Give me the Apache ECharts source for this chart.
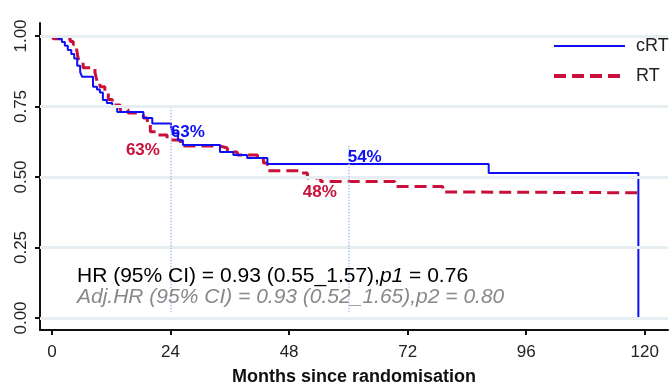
<!DOCTYPE html>
<html>
<head>
<meta charset="utf-8">
<script src="https://cdn.jsdelivr.net/npm/echarts@6/dist/echarts.min.js"></script>
<style>html,body{margin:0;padding:0;background:#fff;}#c{width:672px;height:385px;}</style>
</head>
<body>
<div id="c"></div>
<script>
// Kaplan-Meier steps
const crtTimes = [0, 1.2, 2.0, 2.6, 3.2, 3.9, 4.5, 5.1, 5.7, 6.1, 8.3, 9.1, 9.7, 10.3, 11.1, 12.2, 13.2, 18.5, 20.3, 24.1, 24.6, 25.5, 26.5, 34.0, 36.7, 39.5, 43.6, 88.4, 118.7];
const crtSurv  = [1.0, 0.99, 0.979, 0.965, 0.95, 0.936, 0.92, 0.894, 0.872, 0.855, 0.82, 0.81, 0.80, 0.773, 0.762, 0.748, 0.73, 0.709, 0.69, 0.67, 0.655, 0.63, 0.613, 0.589, 0.578, 0.567, 0.546, 0.514, 0.0];
const rtTimes = [0, 0.3, 3.7, 4.3, 5.0, 5.3, 5.7, 6.3, 8.7, 9.1, 9.7, 10.7, 11.4, 12.2, 13.8, 15.4, 17.2, 18.5, 19.3, 19.9, 21.3, 23.3, 26.0, 34.0, 35.5, 37.5, 41.6, 42.8, 43.6, 50.3, 51.7, 54.4, 69.4, 79.1, 79.6, 118.7];
const rtSurv  = [1.0, 0.99, 0.98, 0.97, 0.95, 0.92, 0.905, 0.887, 0.87, 0.84, 0.82, 0.80, 0.775, 0.755, 0.738, 0.727, 0.72, 0.709, 0.684, 0.66, 0.649, 0.631, 0.61, 0.603, 0.589, 0.578, 0.567, 0.55, 0.522, 0.514, 0.496, 0.484, 0.466, 0.447, 0.444, 0.444];
const xTicks = [0, 24, 48, 72, 96, 120];
const yTicks = [0, 0.25, 0.5, 0.75, 1.0];
const seriesNames = ['cRT', 'RT'];
const refLines = [[24, 0.745], [60, 0.615]];
const crtLabels = [{text: '63%', x: 27.5, y: 0.66}, {text: '54%', x: 63.3, y: 0.571}];
const rtLabels  = [{text: '63%', x: 18.4, y: 0.596}, {text: '48%', x: 54.2, y: 0.447}];
const hrLine1 = 'HR (95% CI) = 0.93 (0.55_1.57),';
const hrLine1b = ' = 0.76';
const hrLine2 = 'Adj.HR (95% CI) = 0.93 (0.52_1.65),p2 = 0.80';

const BLUE = '#0f0ff5', RED = '#c8103a';
const FONT = '"Liberation Sans", Arial, sans-serif';
const zip = (t, s) => t.map((v, i) => [v, s[i]]);
const labelSeries = (arr, color, name) => ({
  type: 'scatter', name: name, silent: true, z: 6,
  symbol: 'rect', symbolSize: 1,
  itemStyle: {color: 'rgba(0,0,0,0)', opacity: 1},
  data: arr.map(p => ({value: [p.x, p.y], name: p.text})),
  label: {show: true, position: 'inside', formatter: p => p.name, color: color, opacity: 1, textBorderWidth: 0, textBorderColor: 'transparent', fontSize: 17, fontWeight: 'bold', fontFamily: FONT}
});

const chart = echarts.init(document.getElementById('c'));
chart.setOption({
  animation: false,
  backgroundColor: '#fff',
  textStyle: {fontFamily: FONT},
  grid: {left: 40, right: 4, top: 23, bottom: 55, containLabel: false, outerBoundsMode: 'none'},
  legend: {
    orient: 'vertical', left: 552, top: 37, padding: 0, itemWidth: 71, itemHeight: 14, itemGap: 12,
    itemStyle: {opacity: 0},
    textStyle: {fontSize: 18, color: '#222', fontFamily: FONT, padding: [0, 0, 0, 6]},
    data: [
      {name: seriesNames[0], lineStyle: {width: 2}},
      {name: seriesNames[1], lineStyle: {width: 4, type: [12, 6]}}
    ]
  },
  xAxis: {
    type: 'value', min: -2.43, max: 124.7,
    name: 'Months since randomisation', nameLocation: 'middle', nameGap: 38,
    nameTextStyle: {fontSize: 18, fontWeight: 'bold', color: '#111', fontFamily: FONT},
    axisLine: {show: true, onZero: false, lineStyle: {color: '#111', width: 2}},
    axisTick: {show: true, length: 5, lineStyle: {color: '#111', width: 2}, customValues: xTicks},
    axisLabel: {fontSize: 17, color: '#222', margin: 14, customValues: xTicks, formatter: v => String(v)},
    splitLine: {show: false}
  },
  yAxis: {
    type: 'value', min: -0.0426, max: 1.046,
    axisLine: {show: true, onZero: false, lineStyle: {color: '#111', width: 2}},
    axisTick: {show: true, length: 5, lineStyle: {color: '#111', width: 2}, customValues: yTicks},
    axisLabel: {fontSize: 17, color: '#222', rotate: 90, margin: 10, customValues: yTicks, formatter: v => v.toFixed(2)},
    splitLine: {show: false}
  },
  series: [
    {
      type: 'line', name: '_grid', data: [], silent: true, z: 1,
      markLine: {
        silent: true, symbol: 'none', animation: false, label: {show: false},
        lineStyle: {color: '#e6eef1', width: 3, type: 'solid'},
        data: yTicks.map(v => ({yAxis: v}))
      }
    },
    {
      type: 'line', name: '_ref', data: [], silent: true, z: 2,
      markLine: {
        silent: true, symbol: 'none', animation: false, label: {show: false},
        lineStyle: {color: '#a9c6ec', width: 1.5, type: 'dotted'},
        data: refLines.map(r => [{coord: [r[0], 0.02]}, {coord: [r[0], r[1]]}])
      }
    },
    {
      type: 'line', name: seriesNames[1], step: 'end', symbol: 'none', z: 3,
      data: zip(rtTimes, rtSurv),
      lineStyle: {color: RED, width: 3, type: [12, 6]},
      itemStyle: {color: RED}
    },
    {
      type: 'line', name: seriesNames[0], step: 'end', symbol: 'none', z: 4,
      data: zip(crtTimes, crtSurv),
      lineStyle: {color: BLUE, width: 2},
      itemStyle: {color: BLUE}
    },
    labelSeries(crtLabels, BLUE, '_lab1'),
    labelSeries(rtLabels, RED, '_lab2')
  ],
  graphic: [
    {
      type: 'text', left: 77, top: 266, z: 10,
      style: {
        text: '{n|' + hrLine1 + '}{i|p1}{n|' + hrLine1b + '}',
        rich: {
          n: {fontSize: 21, color: '#111', fontFamily: FONT},
          i: {fontSize: 21, color: '#111', fontFamily: FONT, fontStyle: 'italic'}
        }
      }
    },
    {
      type: 'text', left: 77, top: 287, z: 10,
      style: {text: hrLine2, fontSize: 21, fontStyle: 'italic', fill: '#888', fontFamily: FONT}
    }
  ]
});
</script>
</body>
</html>
